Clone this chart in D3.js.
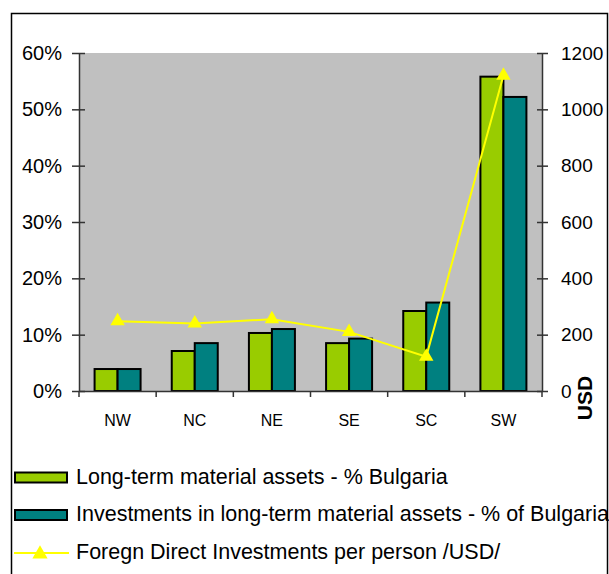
<!DOCTYPE html>
<html>
<head>
<meta charset="utf-8">
<script src="https://cdn.jsdelivr.net/npm/d3@7"></script>
<style>
  body { margin: 0; background: #fff; }
  text { font-family: "Liberation Sans", Arial, sans-serif; fill: #000; }
</style>
</head>
<body>
<div id="chart"></div>
<script>
var regions = ["NW", "NC", "NE", "SE", "SC", "SW"];
var assetsShare = [0.039, 0.071, 0.103, 0.085, 0.142, 0.558];
var investShare = [0.039, 0.085, 0.110, 0.093, 0.157, 0.522];
var fdiPerPerson = [248, 240, 255, 210, 122, 1120];
var leftTicks = [0, 0.1, 0.2, 0.3, 0.4, 0.5, 0.6];
var rightTicks = [0, 200, 400, 600, 800, 1000, 1200];
var legendLabels = [
    "Long-term material assets - % Bulgaria",
    "Investments in long-term material assets - % of Bulgaria",
    "Foregn Direct Investments per person /USD/"
];

function init() {
    var w = 609, h = 574;
    var pLeft = 79, pRight = 542, pTop = 53, pBottom = 391;

    var svg = d3.select("#chart").append("svg")
        .attr("width", w)
        .attr("height", h);

    // outer frame
    svg.append("rect")
        .attr("x", 11.5).attr("y", 13.5)
        .attr("width", 596).attr("height", 580)
        .attr("fill", "none")
        .attr("stroke", "#000")
        .attr("stroke-width", 1.5);

    var x = d3.scaleBand().domain(regions).range([pLeft, pRight]);
    var inner = d3.scaleBand().domain([0, 1]).range([0, 46]);
    var yL = d3.scaleLinear().domain([0, 0.6]).range([pBottom, pTop]);
    var yR = d3.scaleLinear().domain([0, 1200]).range([pBottom, pTop]);

    // plot background
    svg.append("rect")
        .attr("x", pLeft).attr("y", pTop)
        .attr("width", pRight - pLeft).attr("height", pBottom - pTop)
        .attr("fill", "#c0c0c0");

    // bars
    var series = [assetsShare, investShare];
    var colors = ["#99cc00", "#008080"];
    series.forEach(function (vals, s) {
        svg.append("g").selectAll("rect")
            .data(vals)
            .enter().append("rect")
            .attr("x", function (d, i) { return x(regions[i]) + (x.bandwidth() - 46) / 2 + inner(s); })
            .attr("y", function (d) { return yL(d); })
            .attr("width", inner.bandwidth())
            .attr("height", function (d) { return pBottom - yL(d); })
            .attr("fill", colors[s])
            .attr("stroke", "#000")
            .attr("stroke-width", 2);
    });

    // axes
    var leftAxis = d3.axisLeft(yL).tickValues(leftTicks).tickFormat(d3.format(".0%"))
        .tickSizeInner(7).tickSizeOuter(0).tickPadding(10);
    var gL = svg.append("g").attr("transform", "translate(" + pLeft + ",0)").call(leftAxis);

    var rightAxis = d3.axisRight(yR).tickValues(rightTicks).tickFormat(d3.format("d"))
        .tickSizeInner(6).tickSizeOuter(0).tickPadding(13);
    var gR = svg.append("g").attr("transform", "translate(" + pRight + ",0)").call(rightAxis);

    [gL, gR].forEach(function (g) {
        g.select(".domain").attr("stroke", "#333").attr("stroke-width", 1.5);
        g.selectAll(".tick line").attr("stroke", "#333").attr("stroke-width", 1.5);
        g.selectAll("text").attr("font-family", "Liberation Sans, Arial, sans-serif");
    });
    gL.selectAll("text").attr("font-size", "20px");
    gR.selectAll("text").attr("font-size", "19px");
    gL.selectAll(".tick line").attr("x1", 6);
    gR.selectAll(".tick line").attr("x1", -5);

    var bottomAxis = d3.axisBottom(x).tickSize(0).tickPadding(24);
    var gB = svg.append("g").attr("transform", "translate(0," + pBottom + ")").call(bottomAxis);
    gB.select(".domain").attr("stroke", "#333").attr("stroke-width", 1.5);
    gB.selectAll("text").attr("font-size", "16px").attr("font-family", "Liberation Sans, Arial, sans-serif");
    // category separators
    gB.selectAll(".sep")
        .data(regions.concat(["end"]))
        .enter().append("line")
        .attr("x1", function (d, i) { return pLeft + i * x.step(); })
        .attr("x2", function (d, i) { return pLeft + i * x.step(); })
        .attr("y1", 0).attr("y2", 6)
        .attr("stroke", "#333").attr("stroke-width", 1.5);

    // USD axis title
    svg.append("text")
        .attr("transform", "translate(592,398) rotate(-90)")
        .attr("text-anchor", "middle")
        .attr("font-size", "21px")
        .attr("font-weight", "bold")
        .text("USD");

    // FDI line
    var line = d3.line()
        .x(function (d, i) { return x(regions[i]) + x.bandwidth() / 2; })
        .y(function (d) { return yR(d); });
    svg.append("path")
        .datum(fdiPerPerson)
        .attr("d", line)
        .attr("fill", "none")
        .attr("stroke", "#ffff00")
        .attr("stroke-width", 2);

    var tri = d3.symbol().type(d3.symbolTriangle).size(90);
    svg.append("g").selectAll("path")
        .data(fdiPerPerson)
        .enter().append("path")
        .attr("d", tri)
        .attr("transform", function (d, i) {
            return "translate(" + (x(regions[i]) + x.bandwidth() / 2) + "," + yR(d) + ")";
        })
        .attr("fill", "#ffff00");

    // legend
    var legendY = [477.5, 515, 553];
    var lg = svg.append("g");
    [0, 1].forEach(function (i) {
        lg.append("rect")
            .attr("x", 15).attr("y", legendY[i] - 5)
            .attr("width", 52).attr("height", 10)
            .attr("fill", colors[i])
            .attr("stroke", "#000")
            .attr("stroke-width", 2);
    });
    lg.append("line")
        .attr("x1", 14).attr("x2", 69)
        .attr("y1", legendY[2]).attr("y2", legendY[2])
        .attr("stroke", "#ffff00").attr("stroke-width", 2);
    lg.append("path")
        .attr("d", d3.symbol().type(d3.symbolTriangle).size(100))
        .attr("transform", "translate(40," + (legendY[2] + 1) + ")")
        .attr("fill", "#ffff00");
    legendLabels.forEach(function (t, i) {
        lg.append("text")
            .attr("x", 76).attr("y", legendY[i] + 6)
            .attr("font-size", "21.5px")
            .text(t);
    });
}

window.onload = init;
</script>
</body>
</html>
